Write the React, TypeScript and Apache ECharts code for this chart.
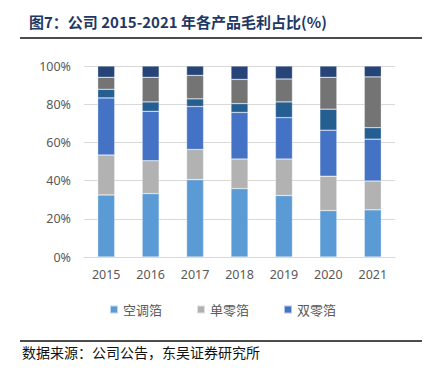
import React, { useEffect, useRef } from "react";
import * as echarts from "echarts";

const years = ["2015", "2016", "2017", "2018", "2019", "2020", "2021"];
const kongtiao = [32.5, 33.2, 40.5, 35.8, 32.2, 24.3, 24.7];
const danling = [20.9, 17.2, 15.8, 15.5, 19.1, 18.0, 15.1];
const shuangling = [29.9, 25.9, 22.5, 24.4, 21.7, 24.1, 21.9];
const other1 = [4.5, 4.9, 4.0, 4.6, 8.2, 11.0, 6.0];
const other2 = [6.3, 12.9, 12.3, 12.7, 12.0, 16.7, 26.6];
const other3 = [5.9, 5.9, 4.9, 7.0, 6.8, 5.9, 5.7];
const legendNames = ["空调箔", "单零箔", "双零箔"];

export default function App() {
  const ref = useRef<HTMLDivElement>(null);
  useEffect(() => {
    const chart = echarts.init(ref.current!, null, { renderer: "svg" });
    const mk = (name: string, data: number[], color: string) => ({
      name,
      type: "bar",
      stack: "total",
      barWidth: 17,
      data,
      itemStyle: { color, borderColor: "rgba(255,255,255,0.6)", borderWidth: 0.5 },
    });
    chart.setOption({
      animation: false,
      backgroundColor: "#fff",
      grid: { left: 84, right: 38, top: 66, bottom: 118, containLabel: false },
      legend: {
        data: legendNames,
        left: 104,
        top: 298,
        icon: "rect",
        itemWidth: 8,
        itemHeight: 8,
        itemGap: 34,
        textStyle: { color: "#595959", fontSize: 13, fontFamily: "Noto Sans CJK SC" },
      },
      xAxis: {
        type: "category",
        data: years,
        axisLine: { lineStyle: { color: "#D9D9D9" } },
        axisTick: { show: false },
        axisLabel: { color: "#595959", fontSize: 12.5, margin: 11, fontFamily: "Noto Sans" },
      },
      yAxis: {
        type: "value",
        min: 0,
        max: 100,
        interval: 20,
        axisLine: { show: false },
        axisTick: { show: false },
        axisLabel: { formatter: "{value}%", color: "#595959", fontSize: 12.5, margin: 13, fontFamily: "Noto Sans" },
        splitLine: { lineStyle: { color: "#D9D9D9", width: 1 } },
      },
      graphic: [
        {
          type: "text",
          left: 29,
          top: 14,
          style: {
            text: "图7：公司 2015-2021 年各产品毛利占比(%)",
            fill: "#1F3864",
            font: "bold 15px 'Noto Sans CJK SC'",
          },
        },
        { type: "line", shape: { x1: 20, y1: 38, x2: 422, y2: 38 }, style: { stroke: "#111", lineWidth: 1.5 } },
        { type: "line", shape: { x1: 20, y1: 341, x2: 422, y2: 341 }, style: { stroke: "#111", lineWidth: 1.5 } },
        {
          type: "text",
          left: 22,
          top: 345,
          style: {
            text: "数据来源：公司公告，东吴证券研究所",
            fill: "#111",
            font: "14px 'Noto Sans CJK SC'",
          },
        },
      ],
      series: [
        mk("空调箔", kongtiao, "#5B9BD5"),
        mk("单零箔", danling, "#B2B2B2"),
        mk("双零箔", shuangling, "#4472C4"),
        mk("其他1", other1, "#255E91"),
        mk("其他2", other2, "#747474"),
        mk("其他3", other3, "#264478"),
      ],
    });
    return () => chart.dispose();
  }, []);
  return <div ref={ref} style={{ position: "fixed", left: 0, top: 0, width: 433, height: 375 }} />;
}
